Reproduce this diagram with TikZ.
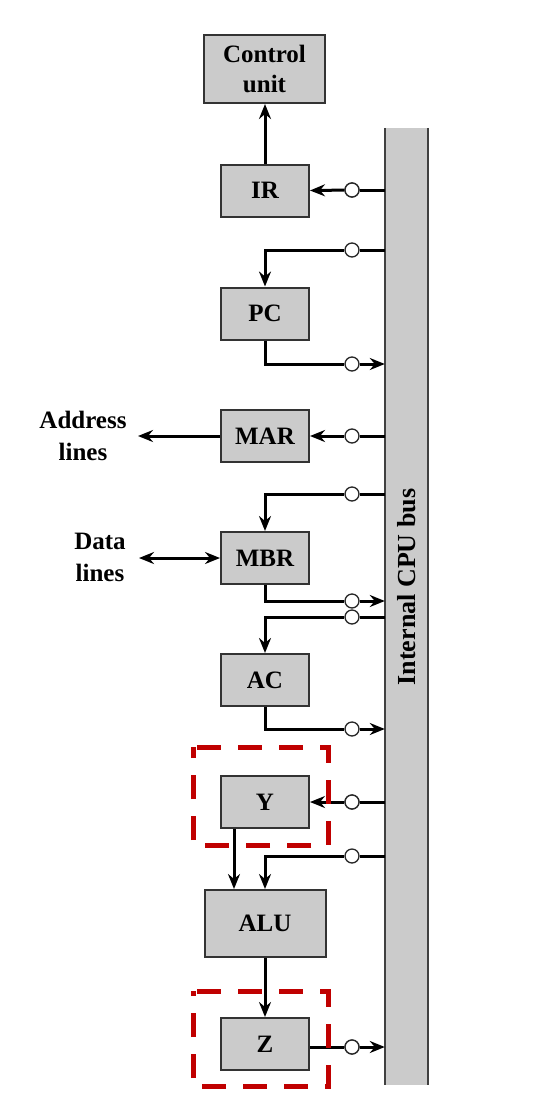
\documentclass[tikz,border=0pt]{standalone}
\usepackage{fontspec}
\setmainfont{Liberation Serif}
\usetikzlibrary{arrows.meta,calc}
\definecolor{boxgray}{HTML}{CBCBCB}
\definecolor{darkred}{HTML}{C00000}
\begin{document}
\begin{tikzpicture}[x=1pt,y=-1pt,
  reg/.style={draw=black!80,line width=2pt,fill=boxgray,minimum width=88pt,minimum height=52pt,inner sep=0pt,font=\fontsize{25}{30}\selectfont\bfseries,align=center},
  tap/.style={circle,draw=black!85,line width=1.3pt,fill=white,minimum size=14pt,inner sep=0pt},
  wire/.style={line width=3pt},
  tip/.tip={Stealth[length=15pt,width=12pt,inset=5pt]},
  arr/.style={wire,-tip},
  lbl/.style={font=\fontsize{25}{32}\selectfont\bfseries,align=center},
  hl/.style={draw=darkred,line width=5pt,dash pattern=on 24pt off 17pt}
]
\useasboundingbox (0,0) rectangle (545,1096);

% bus
\node[fill=boxgray,minimum width=43pt,minimum height=957pt,inner sep=0pt] (bus) at (406.5,606.5) {};
\draw[line width=2pt,black!75] (bus.north west) -- (bus.south west);
\draw[line width=2pt,black!75] (bus.north east) -- (bus.south east);
\node[font=\fontsize{26}{30}\selectfont\bfseries,rotate=90] (buslbl) at (407,587) {Internal CPU bus};

% registers
\node[reg,minimum width=121pt,minimum height=68pt] (CU) at (264.5,69) {Control\\unit};
\node[reg] (IR) at (265,190.5) {IR};
\node[reg] (PC) at (265,313.5) {PC};
\node[reg] (MAR) at (265,436) {MAR};
\node[reg] (MBR) at (265,558) {MBR};
\node[reg] (AC) at (265,680) {AC};
\node[reg] (Y) at (265,802) {Y};
\node[reg,minimum width=121pt,minimum height=67pt] (ALU) at (265,923.5) {ALU};
\node[reg] (Z) at (265,1044) {Z};

% taps
\node[tap] (cIR) at (352,190) {};
\node[tap] (cPCi) at (352,250) {};
\node[tap] (cPCo) at (352,364) {};
\node[tap] (cMAR) at (352,436) {};
\node[tap] (cMBRi) at (352,494) {};
\node[tap] (cMBRo) at (352,601) {};
\node[tap] (cACi) at (352,617) {};
\node[tap] (cACo) at (352,729) {};
\node[tap] (cY) at (352,802) {};
\node[tap] (cALU) at (352,856) {};
\node[tap] (cZ) at (352,1047) {};

% IR
\draw[arr] (IR.north) -- (IR.north |- CU.south);
\draw[wire] (cIR -| bus.west) -- (cIR);
\draw[arr] (cIR) -- (IR.east);
% PC
\draw[wire] (cPCi -| bus.west) -- (cPCi);
\draw[arr] (cPCi) -| (PC.north);
\draw[wire] (PC.south) |- (cPCo);
\draw[arr] (cPCo) -- (cPCo -| bus.west);
% MAR
\draw[wire] (cMAR -| bus.west) -- (cMAR);
\draw[arr] (cMAR) -- (MAR.east);
\coordinate (addrEnd) at (138,436);
\draw[arr] (MAR.west) -- (addrEnd);
\node[lbl] (addr) at (83,436) {Address\\lines};
% MBR
\draw[wire] (cMBRi -| bus.west) -- (cMBRi);
\draw[arr] (cMBRi) -| (MBR.north);
\draw[wire] (MBR.south) |- (cMBRo);
\draw[arr] (cMBRo) -- (cMBRo -| bus.west);
\coordinate (dataEnd) at (139,558);
\draw[wire,tip-tip] (dataEnd) -- (MBR.west);
\node[lbl] (data) at (100,557) {Data\\lines};
% AC
\draw[wire] (cACi -| bus.west) -- (cACi);
\draw[arr] (cACi) -| (AC.north);
\draw[wire] (AC.south) |- (cACo);
\draw[arr] (cACo) -- (cACo -| bus.west);
% Y
\draw[wire] (cY -| bus.west) -- (cY);
\draw[arr] (cY) -- (Y.east);
\coordinate (yout) at ([xshift=14pt]Y.south west);
\draw[arr] (yout) -- (yout |- ALU.north);
% ALU
\draw[wire] (cALU -| bus.west) -- (cALU);
\draw[arr] (cALU) -| (ALU.north);
\draw[arr] (ALU.south) -- (Z.north);
% Z
\draw[wire] (cZ -| Z.east) -- (cZ);
\draw[arr] (cZ) -- (cZ -| bus.west);
\node[tap] at (cIR) {};
\node[tap] at (cY) {};
\node[tap] at (cZ) {};

% highlight boxes
\draw[hl] (197,747) -- (328,747) -- (328,845) -- (193,845) -- (193,747);
\draw[hl] (197,991) -- (328,991) -- (328,1086) -- (193,1086) -- (193,991);
\end{tikzpicture}
\end{document}
